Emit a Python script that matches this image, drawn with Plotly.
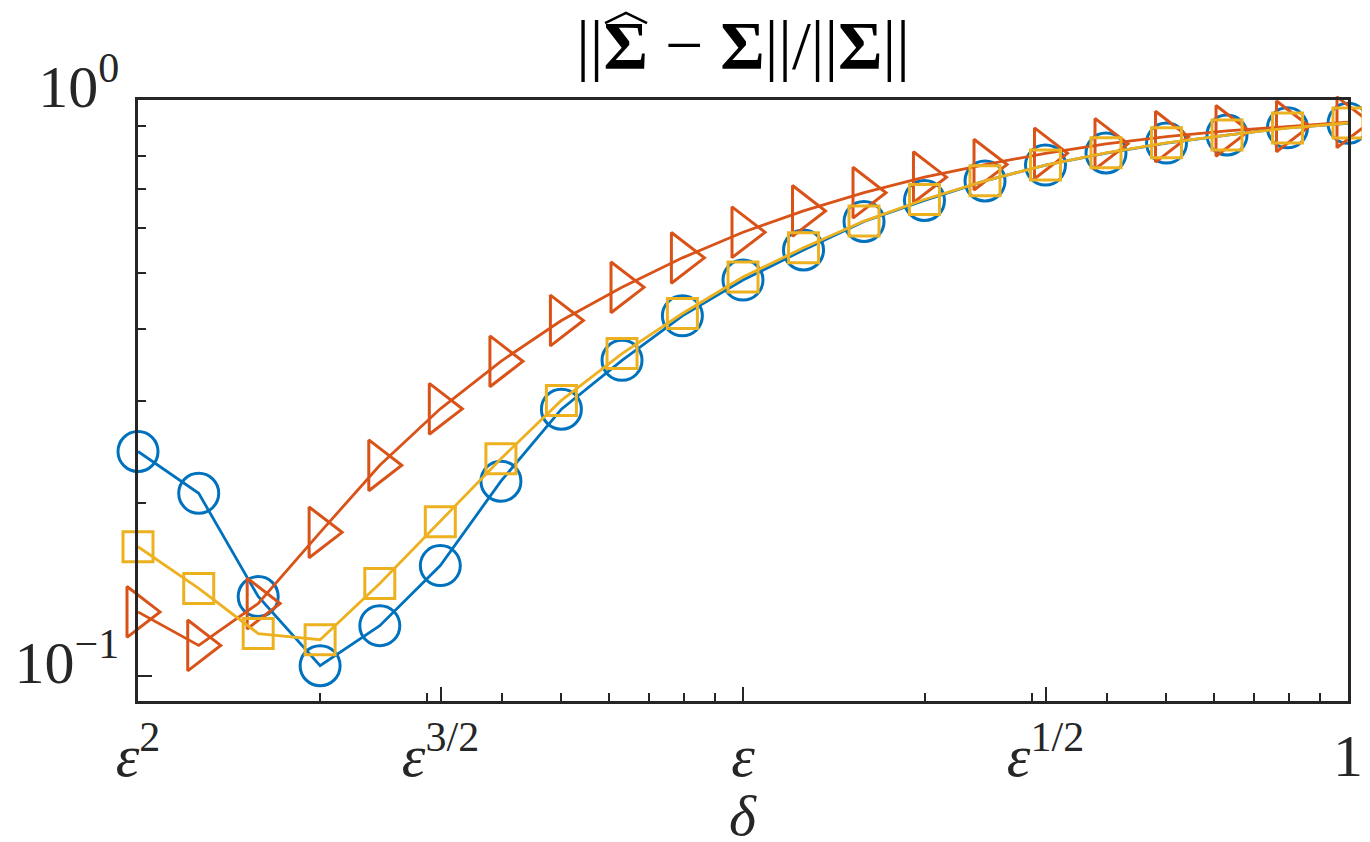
import plotly.graph_objects as go

# delta = eps^(2 - k/10), eps = 0.1
delta = [0.0100, 0.0126, 0.0158, 0.0200, 0.0251, 0.0316, 0.0398, 0.0501, 0.0631, 0.0794,
         0.1000, 0.1259, 0.1585, 0.1995, 0.2512, 0.3162, 0.3981, 0.5012, 0.6310, 0.7943, 1.0000]

err_circle = [0.2455, 0.2077, 0.1375, 0.1043, 0.1224, 0.1556, 0.2180, 0.2907, 0.3534, 0.4221,
              0.4870, 0.5491, 0.6154, 0.6694, 0.7236, 0.7709, 0.8090, 0.8418, 0.8694, 0.8946, 0.9109]
err_triangle = [0.1293, 0.1131, 0.1337, 0.1777, 0.2323, 0.2911, 0.3520, 0.4143, 0.4730, 0.5322,
                0.5895, 0.6419, 0.6904, 0.7347, 0.7725, 0.8081, 0.8395, 0.8636, 0.8840, 0.9000, 0.9149]
err_square = [0.1678, 0.1420, 0.1186, 0.1157, 0.1448, 0.1854, 0.2385, 0.3011, 0.3631, 0.4260,
              0.4929, 0.5539, 0.6164, 0.6719, 0.7239, 0.7709, 0.8099, 0.8428, 0.8694, 0.8940, 0.9121]

xtick_vals = [0.01, 0.0316228, 0.1, 0.316228, 1.0]
xtick_text = ["<i>ε</i><sup>2</sup>", "<i>ε</i><sup>3/2</sup>", "<i>ε</i>", "<i>ε</i><sup>1/2</sup>", "1"]
xminor_vals = [0.02, 0.03, 0.04, 0.05, 0.06, 0.07, 0.08, 0.09,
               0.2, 0.3, 0.4, 0.5, 0.6, 0.7, 0.8, 0.9]
ytick_vals = [0.1, 1.0]
ytick_text = ["10<sup>−1</sup>", "10<sup>0</sup>"]
yminor_vals = [0.2, 0.3, 0.4, 0.5, 0.6, 0.7, 0.8, 0.9]

FONT = "Liberation Serif"
AX = "#262626"
W, H = 1370, 842
ML, MR, MT, MB = 130, 30, 92, 149
PW, PH = W - ML - MR, H - MT - MB


def px(xp, yp):
    # pixel -> paper coords (only used for the title decoration)
    return (xp - ML) / PW, (H - MB - yp) / PH


fig = go.Figure()
series = [
    (err_circle, "#0072BD", "circle-open", 40),
    (err_triangle, "#D95319", "triangle-right-open", 44),
    (err_square, "#EDB120", "square-open", 30),
]
for ys, col, sym, sz in series:
    fig.add_trace(go.Scatter(
        x=delta, y=ys, mode="lines+markers", cliponaxis=False,
        line=dict(color=col, width=2.8),
        marker=dict(symbol=sym, size=sz, color=col, line=dict(color=col, width=3)),
        showlegend=False))

axis_common = dict(
    type="log", showgrid=False, zeroline=False, automargin=False,
    showline=True, linecolor=AX, linewidth=2.5, mirror=True,
    ticks="inside", ticklen=14, tickwidth=2, tickcolor=AX,
    tickfont=dict(family=FONT, size=60, color=AX),
)

fig.update_xaxes(
    **axis_common, range=[-2, 0],
    tickmode="array", tickvals=xtick_vals, ticktext=xtick_text,
    ticklabelstandoff=0,
    minor=dict(tickmode="array", tickvals=xminor_vals, ticks="inside",
               ticklen=8, tickwidth=2, tickcolor=AX, showgrid=False),
)
fig.update_yaxes(
    **axis_common, range=[-1.043, 0],
    tickmode="array", tickvals=ytick_vals, ticktext=ytick_text,
    ticklabelstandoff=4, ticklabelshift=-14,
    minor=dict(tickmode="array", tickvals=yminor_vals, ticks="inside",
               ticklen=8, tickwidth=2, tickcolor=AX, showgrid=False),
)

fig.update_layout(
    width=W, height=H,
    margin=dict(l=ML, r=MR, t=MT, b=MB),
    paper_bgcolor="white", plot_bgcolor="white",
    title=dict(text="||<b>Σ</b> − <b>Σ</b>||/||<b>Σ</b>||", x=735 / W, xanchor="center",
               y=1 - 36 / H, yanchor="middle", yref="container",
               font=dict(family=FONT, size=68, color="black")),
)

# wide hat over the first Sigma
hx0, hy0 = px(597, 15)
hx1, hy1 = px(618, 5)
hx2, hy2 = px(639, 15)
fig.add_shape(type="path", xref="paper", yref="paper", layer="above",
              path=f"M {hx0:.4f} {hy0:.4f} L {hx1:.4f} {hy1:.4f} L {hx2:.4f} {hy2:.4f}",
              line=dict(color="black", width=2.5))

lx, ly = px(735, 842)
fig.add_annotation(text="<i>δ</i>", x=lx, xref="paper", y=ly, yref="paper",
                   yanchor="bottom", showarrow=False,
                   font=dict(family=FONT, size=58, color=AX))

fig.write_html("out.html")
